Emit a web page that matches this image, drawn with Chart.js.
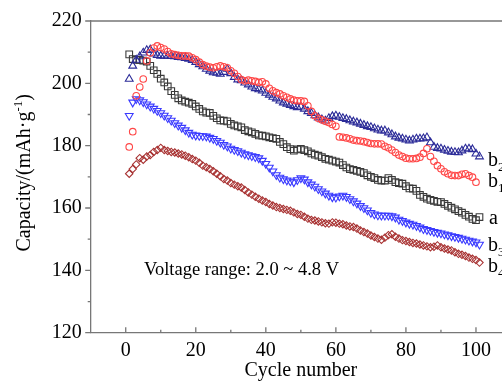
<!DOCTYPE html>
<html><head><meta charset="utf-8">
<script src="https://cdn.jsdelivr.net/npm/chart.js@4.4.1/dist/chart.umd.min.js"></script>
<style>
html,body{margin:0;padding:0;overflow:hidden;background:#fff;width:502px;height:387px}
#wrap{position:absolute;left:0;top:0;width:530px;height:387px}
canvas{display:block}
</style></head>
<body><div id="wrap"><canvas id="c" width="530" height="387"></canvas></div>
<script>
const cycles = [1,2,3,4,5,6,7,8,9,10,11,12,13,14,15,16,17,18,19,20,21,22,23,24,25,26,27,28,29,30,31,32,33,34,35,36,37,38,39,40,41,42,43,44,45,46,47,48,49,50,51,52,53,54,55,56,57,58,59,60,61,62,63,64,65,66,67,68,69,70,71,72,73,74,75,76,77,78,79,80,81,82,83,84,85,86,87,88,89,90,91,92,93,94,95,96,97,98,99,100,101];

const seriesA = [209.3,207.8,207.5,207.5,207.3,207,205.6,204.2,203,201.5,200.3,199,197.5,196.3,195.2,194.5,194.1,193.8,193.4,192.6,191.8,191,190.6,190.5,189.6,188.8,188.1,188,187.8,187,186.5,186.2,185.9,185,184.6,184.3,183.8,183.3,183.2,183,182.7,182.4,182.2,181.2,180.5,179.5,178.9,178.4,178.8,179,178.6,178.2,177.5,177.1,176.8,176.3,175.8,175.5,175.2,174.9,174.6,173.8,173,172.5,172.2,171.9,171.6,171.2,170.5,170,169.6,169,168.8,168.8,169.6,169,168.3,168,167.8,167,166.3,166.2,165.5,164.2,163.6,163,162.6,162.3,162,161.9,161.3,160.7,160.1,159.6,159,158.5,157.8,157.2,156.5,156.1,157.1];

const seriesB1 = [179.6,184.5,196,198.8,201.4,207.2,209.8,211.3,212,211.5,211,210.2,209.5,209.2,209,208.8,208.8,208.7,208.2,207.6,206.8,206,205.5,205.2,205,205.3,205.6,205.3,205,204,203.2,202.2,201.2,200.8,201,200.8,200.6,200.3,200.5,199.8,198.4,197.6,197,196.6,196,195.5,195,194.6,194.4,194.4,194.2,192.8,191,189.6,188.8,188.3,187.8,187.4,186.8,186.2,182.8,182.7,182.5,182.2,181.8,181.6,181.5,181.3,181,180.7,180.6,180.6,180.5,179.8,179.3,178.6,177.8,177,176.5,176,175.8,175.8,175.9,176.3,177.5,179,176.5,175,173.6,172.6,171.6,171,170.5,170.4,170.4,170.8,171,170.4,169.9,168.3];

const seriesB2 = [201.4,205.6,207.5,208.6,209.8,210.6,210.8,209.5,209,208.8,208.8,208.8,208.7,208.6,208.4,208.3,208.1,207.8,207.4,206.8,206.1,205.4,204.6,204,203.5,203.3,203,203.6,204.6,203.2,202,201.2,200.9,200.2,199.6,198.9,198.4,198,197.6,196.9,196.3,195.6,195.1,194.4,193.8,193.4,193,192.6,192.3,192.5,191.8,191,190.4,189.7,189,188.4,188,188.8,189.4,189.6,189.2,188.8,188.5,188.1,187.7,187.4,187,186.6,186.2,185.9,185.5,185.1,184.8,184.8,184.2,183.6,182.9,182.5,182.2,181.9,181.6,181.9,182.2,182.2,182.3,182.6,181,179.6,179.2,179,178.6,178.3,178,177.9,177.8,178.4,179,179,178.8,177.4,176.5];

const seriesB3 = [189.6,193.9,195,194.6,194,193.3,192.6,191.9,191.2,190.5,189.7,188.9,188.1,187.3,186.5,185.8,185,184.2,183.6,183.3,183.2,183.1,183,182.6,182.2,181.6,181,180.3,179.8,179.1,178.7,178.3,177.8,177.3,177,176.7,176.4,176,175.2,174.2,173,171.8,170.6,169.8,169.3,168.9,168.6,168.3,169,169.6,169.2,168.3,167.6,166.9,166.1,165.4,164.7,164,163.5,163.4,163.8,164,163.6,162.9,162.2,161.5,160.7,160,159.3,158.5,158,157.7,157.6,157.6,157.6,157.4,157,156.3,155.9,155.4,155,154.7,154.3,153.8,153.3,153,152.7,152.4,152.1,151.9,151.6,151.3,151,150.8,150.5,150.2,149.9,149.6,149.3,149,148.3];

const seriesB4 = [171,172.5,174,176,175.5,176.5,177,178,178.6,179.3,178.6,178.3,178,177.8,177.5,177.2,176.8,176.3,175.7,175.2,174.5,173.6,173.1,172.5,171.8,171,170.2,169.3,168.8,168,167.5,167,166.6,165.8,165,164.3,163.6,163,162.4,161.9,161.3,160.8,160.3,160,159.7,159.4,159.1,158.6,158.1,157.8,157.2,156.6,156.2,156,155.7,155.4,155.1,155,155.4,155.3,155,154.8,154.4,154.1,153.9,153.4,152.8,152.3,151.8,151.2,150.7,150.2,149.8,150.5,151.3,151.6,150.8,150.2,149.7,149.4,149.1,148.8,148.6,148.3,148,147.7,147.4,147.6,148,147.4,147,146.7,146.4,145.8,145.3,145,144.6,144.1,143.7,143.3,142.5];

const xTickValues = [0,20,40,60,80,100];
const xMinorTicks = [10,30,50,70,90,110];
const yTickValues = [120,140,160,180,200,220];
const yMinorTicks = [130,150,170,190,210];

const SERIF = '"Liberation Serif", "Times New Roman", serif';

function pts(vals){ return vals.map((v,i)=>({x:cycles[i], y:v})); }

const seriesLabels = [
  {main:'b', sub:'2', cx:103.4, cy:173.6},
  {main:'b', sub:'1', cx:103.4, cy:166.7},
  {main:'a', sub:'',  cx:103.7, cy:154.8},
  {main:'b', sub:'3', cx:103.4, cy:146.2},
  {main:'b', sub:'4', cx:103.4, cy:139.5}
];
const noteText = {text:'Voltage range: 2.0 ~ 4.8 V', cx:5.2, cy:138.4};

const decor = {
  id:'decor',
  afterDraw(chart){
    const {ctx, chartArea:a, scales:{x,y}} = chart;
    ctx.save();
    ctx.strokeStyle='#777'; ctx.lineWidth=1.3;
    ctx.beginPath();
    ctx.moveTo(a.left,a.top); ctx.lineTo(a.right,a.top); ctx.lineTo(a.right,a.bottom);
    xTickValues.forEach(v=>{const p=x.getPixelForValue(v); ctx.moveTo(p,a.bottom); ctx.lineTo(p,a.bottom-5.5);});
    xMinorTicks.forEach(v=>{const p=x.getPixelForValue(v); ctx.moveTo(p,a.bottom); ctx.lineTo(p,a.bottom-3);});
    yTickValues.forEach(v=>{const p=y.getPixelForValue(v); ctx.moveTo(a.left,p); ctx.lineTo(a.left-5.5,p);});
    yMinorTicks.forEach(v=>{const p=y.getPixelForValue(v); ctx.moveTo(a.left,p); ctx.lineTo(a.left-3,p);});
    ctx.stroke();

    ctx.fillStyle='#000';
    ctx.textBaseline='alphabetic';
    ctx.textAlign='left';
    ctx.font='18.5px '+SERIF;
    ctx.fillText(noteText.text, x.getPixelForValue(noteText.cx), y.getPixelForValue(noteText.cy));
    seriesLabels.forEach(l=>{
      const px=x.getPixelForValue(l.cx), py=y.getPixelForValue(l.cy);
      ctx.font='20px '+SERIF;
      ctx.fillText(l.main, px, py);
      const w=ctx.measureText(l.main).width;
      if(l.sub){ ctx.font='13px '+SERIF; ctx.fillText(l.sub, px+w, py+5); }
    });
    ctx.save();
    const cxp=30, cyp=(a.top+a.bottom)/2 - 4;
    ctx.translate(cxp, cyp);
    ctx.rotate(-Math.PI/2);
    const p1='Capacity/(mAh\u00B7g', sup='-1', p3=')';
    ctx.font='20px '+SERIF; const w1=ctx.measureText(p1).width, w3=ctx.measureText(p3).width;
    ctx.font='13px '+SERIF; const w2=ctx.measureText(sup).width;
    let sx=-(w1+w2+w3)/2;
    ctx.font='20px '+SERIF; ctx.fillText(p1, sx, 0); sx+=w1;
    ctx.font='13px '+SERIF; ctx.fillText(sup, sx, -8); sx+=w2;
    ctx.font='20px '+SERIF; ctx.fillText(p3, sx, 0);
    ctx.restore();
    ctx.restore();
  }
};

const ds = (label, vals, style, color, r, rot) => ({
  label, data: pts(vals), pointStyle: style, pointRadius: r, pointRotation: rot||0,
  pointBorderColor: color, pointBackgroundColor: 'rgba(0,0,0,0)', pointBorderWidth: 1.1,
  borderColor: color, backgroundColor:'rgba(0,0,0,0)', showLine:false, pointHoverRadius:r
});

new Chart(document.getElementById('c'), {
  type:'scatter',
  data:{ datasets:[
    ds('b1', seriesB1, 'circle', '#ff4747', 3.3),
    ds('b2', seriesB2, 'triangle', '#2b2b98', 4.5),
    ds('a', seriesA, 'rect', '#3a3a3a', 4.7),
    ds('b3', seriesB3, 'triangle', '#3a3aff', 4.5, 180),
    ds('b4', seriesB4, 'rectRot', '#a83232', 3.7)
  ]},
  options:{
    responsive:false, animation:false, devicePixelRatio:1,
    layout:{padding:{top:20,right:19,left:0,bottom:0}},
    plugins:{legend:{display:false}, tooltip:{enabled:false}},
    events:[],
    scales:{
      x:{type:'linear', min:-10, max:110,
        afterBuildTicks:s=>{s.ticks=xTickValues.map(v=>({value:v}));},
        afterFit:s=>{s.height=54.3;},
        grid:{display:false, drawTicks:false},
        border:{display:true, color:'#777', width:1.3},
        ticks:{font:{family:SERIF,size:20}, color:'#000', padding:6, maxRotation:0},
        title:{display:true, text:'Cycle number', font:{family:SERIF,size:20}, color:'#000', padding:{top:0,bottom:4}}
      },
      y:{type:'linear', min:120, max:220,
        afterBuildTicks:s=>{s.ticks=yTickValues.map(v=>({value:v}));},
        afterFit:s=>{s.width=90.7;},
        grid:{display:false, drawTicks:false},
        border:{display:true, color:'#777', width:1.3},
        ticks:{font:{family:SERIF,size:20}, color:'#000', padding:9}
      }
    }
  },
  plugins:[decor]
});
</script>
</body></html>
